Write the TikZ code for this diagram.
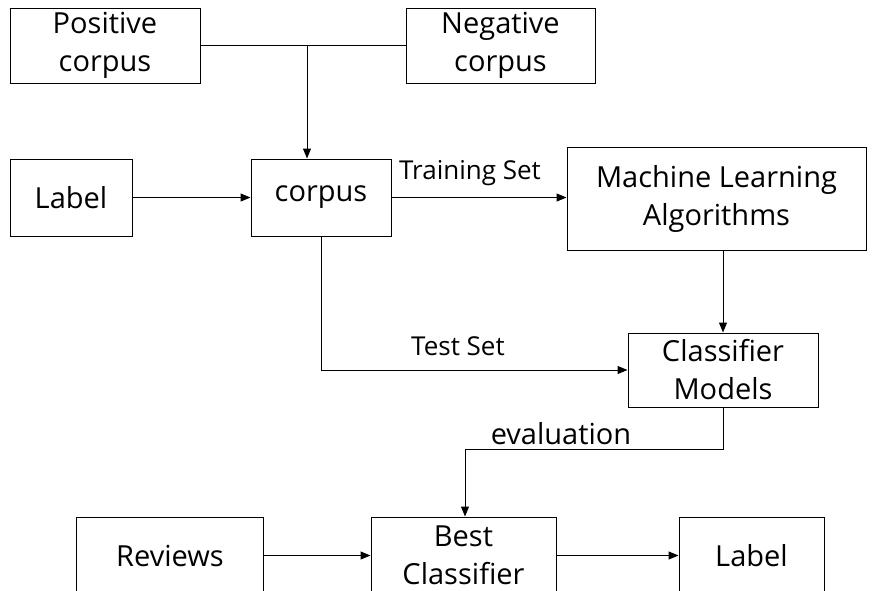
\documentclass[tikz,border=0pt]{standalone}
\usepackage{fontspec}
\setmainfont{Open Sans}
\usepackage{tikz}
\usetikzlibrary{arrows.meta}

\tikzset{
    box/.style = {draw, line width = 1pt, align = center, inner sep = 0pt,
        font = \fontsize{29}{38}\selectfont},
    flowline/.style = {line width = 1pt, -{Triangle[length = 10pt, width = 8pt]}},
    tag/.style = {font = \fontsize{26}{30}\selectfont, inner sep = 0pt}
}

\begin{document}
\begin{tikzpicture}[x = 1pt, y = -1pt]
    \useasboundingbox (0, 0) rectangle (873, 590);
    \clip (0, 0) rectangle (873, 590);

    % top row
    \node[box, minimum width = 190pt, minimum height = 75pt] (pos) at (105, 45.5) {Positive\\corpus};
    \node[box, minimum width = 189pt, minimum height = 75pt] (neg) at (500.5, 45.5) {Negative\\corpus};

    % middle rows
    \node[box, minimum width = 122pt, minimum height = 77pt] (lab) at (71, 197.5) {Label};
    \node[box, minimum width = 140pt, minimum height = 77pt] (corpus) at (321, 197.5) {corpus};
    \node[box, minimum width = 299pt, minimum height = 103pt] (mla) at (716.5, 198.5) {Machine Learning\\Algorithms};
    \node[box, minimum width = 190pt, minimum height = 74pt] (cm) at (723, 370) {Classifier\\Models};

    % bottom row (cut off at the edge)
    \node[box, minimum width = 187pt, minimum height = 77pt] (rev) at (170, 555.5) {Reviews};
    \node[box, minimum width = 185pt, minimum height = 77pt] (best) at (463.5, 555.5) {Best\\Classifier};
    \node[box, minimum width = 145pt, minimum height = 77pt] (lab2) at (751.5, 555.5) {Label};

    \coordinate (join) at (307, 45.5);
    \coordinate (turn) at (321, 370);
    \coordinate (evr) at (723, 449);
    \coordinate (evl) at (465, 449);

    \draw[line width = 1pt] (pos) -- (neg);
    \draw[flowline] (join) -- (join |- corpus.north);
    \draw[flowline] (lab) -- (corpus);
    \draw[flowline] (corpus) -- (corpus -| mla.west);
    \draw[flowline] (mla.south -| cm) -- (cm);
    \draw[flowline] (corpus.south) -- (turn) -- (cm.west);
    \draw[flowline] (cm.south) -- (evr) -- (evl) -- (evl |- best.north);
    \draw[flowline] (rev) -- (best);
    \draw[flowline] (best) -- (lab2);

    \node[tag] (train) at (470, 173) {Training Set};
    \node[tag] (test) at (458, 346) {Test Set};
    \node[tag, font = \fontsize{29}{30}\selectfont] (eval) at (561, 434) {evaluation};
\end{tikzpicture}
\end{document}
